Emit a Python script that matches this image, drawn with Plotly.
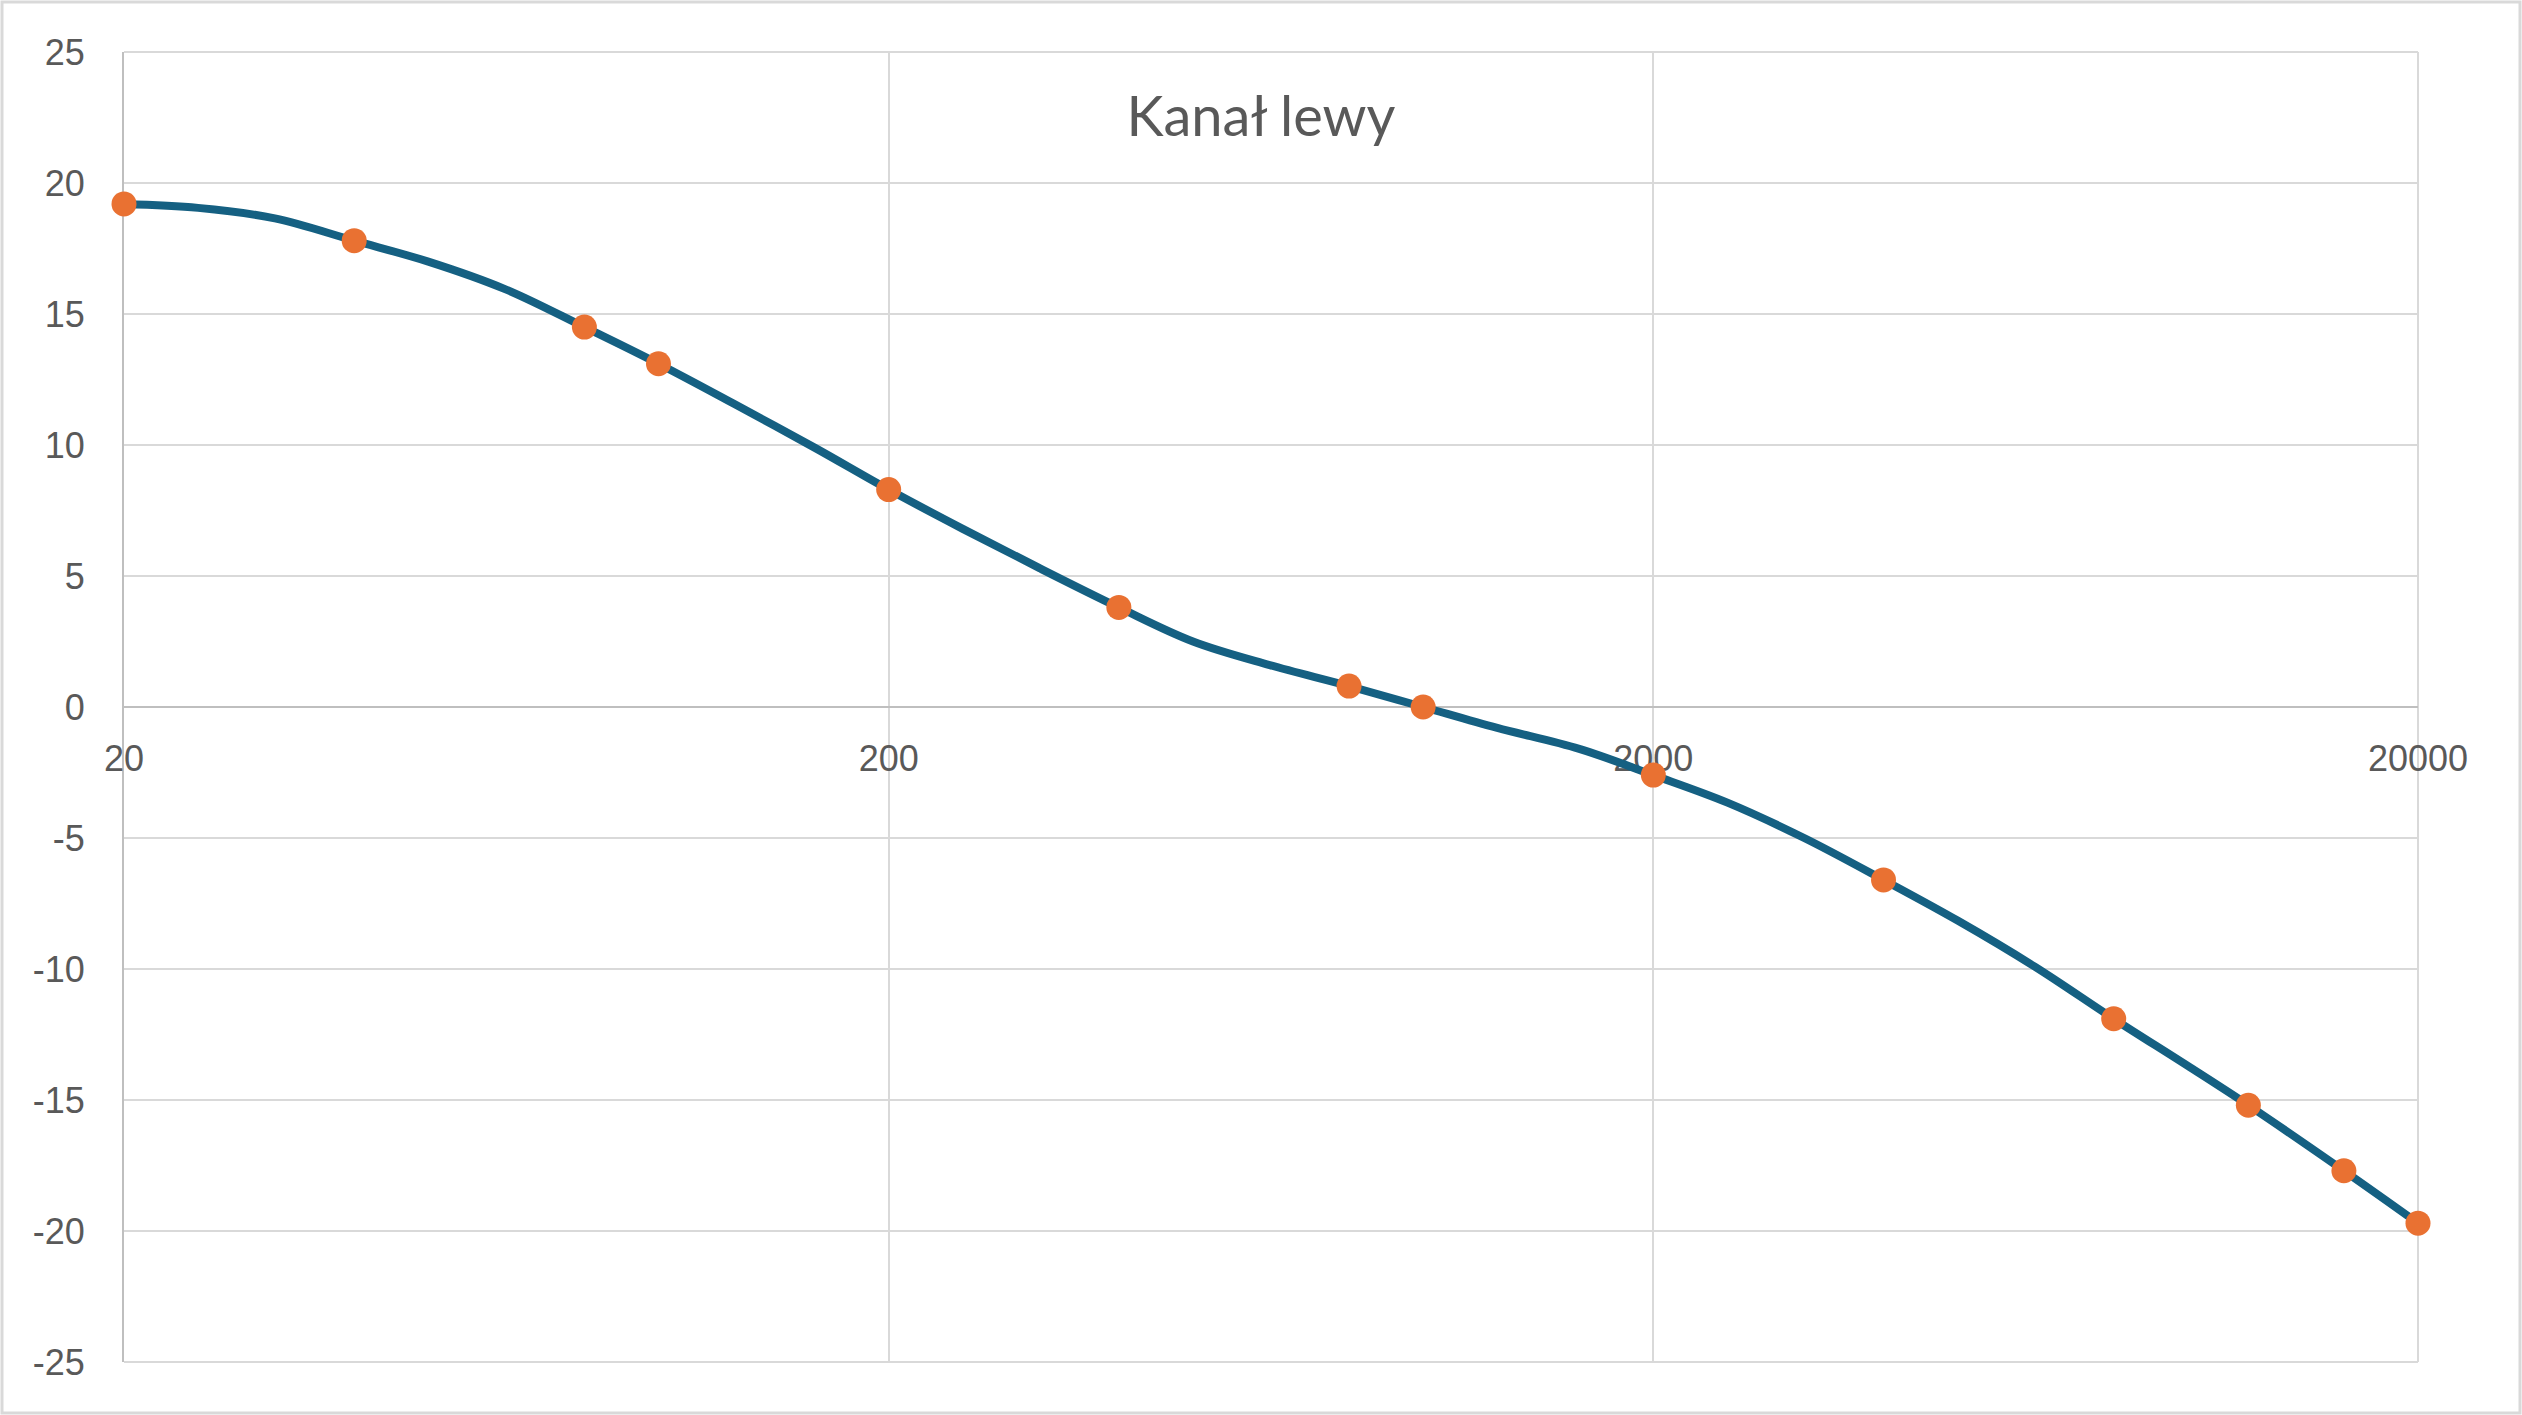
import math
import plotly.graph_objects as go

# Smoothed response curve (1/3-octave style points)
line_freq = [20, 25, 31.5, 40, 50, 63, 80, 100, 125, 160, 200, 250, 315, 400, 500, 630,
             800, 1000, 1250, 1600, 2000, 2500, 3150, 4000, 5000, 6300, 8000, 10000,
             12000, 16000, 20000]
line_db = [19.2, 19.05, 18.65, 17.8, 17.0, 15.95, 14.5, 13.1, 11.6, 9.9, 8.3, 6.8, 5.3, 3.8,
           2.5, 1.6, 0.8, 0.0, -0.8, -1.6, -2.6, -3.65, -5.0, -6.6, -8.15, -9.9, -11.9,
           -13.7, -15.2, -17.7, -19.7]

# Measured points (markers)
pt_freq = [20, 40, 80, 100, 200, 400, 800, 1000, 2000, 4000, 8000, 12000, 16000, 20000]
pt_db = [19.2, 17.8, 14.5, 13.1, 8.3, 3.8, 0.8, 0.0, -2.6, -6.6, -11.9, -15.2, -17.7, -19.7]

x_ticks = [20, 200, 2000, 20000]
y_ticks = [-25, -20, -15, -10, -5, 0, 5, 10, 15, 20, 25]

W, H = 2522, 1415
ml, mr, mt, mb = 124, 104, 52, 53
pw, ph = W - ml - mr, H - mt - mb

fig = go.Figure()
fig.add_trace(go.Scatter(x=line_freq, y=line_db, mode="lines",
                         line=dict(color="#156082", width=8, shape="spline", smoothing=1.0),
                         hoverinfo="skip", showlegend=False, cliponaxis=False))
fig.add_trace(go.Scatter(x=pt_freq, y=pt_db, mode="markers",
                         marker=dict(color="#E97132", size=25, line=dict(width=0)),
                         showlegend=False, cliponaxis=False))

tick_font = dict(family="Liberation Sans, Arial, sans-serif", size=36, color="#595959")

fig.update_layout(
    width=W, height=H,
    margin=dict(l=ml, r=mr, t=mt, b=mb, pad=0),
    paper_bgcolor="white", plot_bgcolor="white",
    title=dict(text="Kanał lewy", x=0.5, xref="container", xanchor="center",
               y=1 - 116 / H, yref="container", yanchor="middle",
               font=dict(family="Lato, Noto Sans, sans-serif", size=56, color="#595959")),
    xaxis=dict(type="log",
               range=[math.log10(x_ticks[0]) - 1e-6, math.log10(x_ticks[-1]) + 1e-6],
               tickvals=x_ticks, ticktext=[str(v) for v in x_ticks],
               showgrid=True, gridcolor="#d9d9d9", gridwidth=2,
               showline=True, linecolor="#bfbfbf", linewidth=2,
               anchor="free", position=0.5,
               ticks="outside", ticklen=20, tickcolor="rgba(0,0,0,0)",
               tickfont=tick_font, layer="below traces", zeroline=False),
    yaxis=dict(range=[-25, 25], tickvals=y_ticks,
               ticktext=[str(v) for v in y_ticks],
               showgrid=True, gridcolor="#d9d9d9", gridwidth=2,
               showline=True, linecolor="#bfbfbf", linewidth=2,
               zeroline=True, zerolinecolor="#bfbfbf", zerolinewidth=2,
               ticks="outside", ticklen=30, tickcolor="rgba(0,0,0,0)",
               tickfont=tick_font, layer="below traces"),
)

# edge gridlines (top, bottom, right) of the plot area
for (x0, y0, x1, y1) in [(0, 1, 1, 1), (0, 0, 1, 0), (1, 0, 1, 1)]:
    fig.add_shape(type="line", xref="paper", yref="paper", x0=x0, y0=y0, x1=x1, y1=y1,
                  line=dict(color="#d9d9d9", width=2), layer="below")

# light chart-area border
fig.add_shape(type="rect", xref="paper", yref="paper",
              x0=(2 - ml) / pw, x1=(W - 2 - ml) / pw,
              y0=-(mb - 2) / ph, y1=1 + (mt - 2) / ph,
              line=dict(color="#d9d9d9", width=3), layer="below")

fig.write_html("out.html", config={"displayModeBar": False},
               post_script="document.body.style.margin='0';")
